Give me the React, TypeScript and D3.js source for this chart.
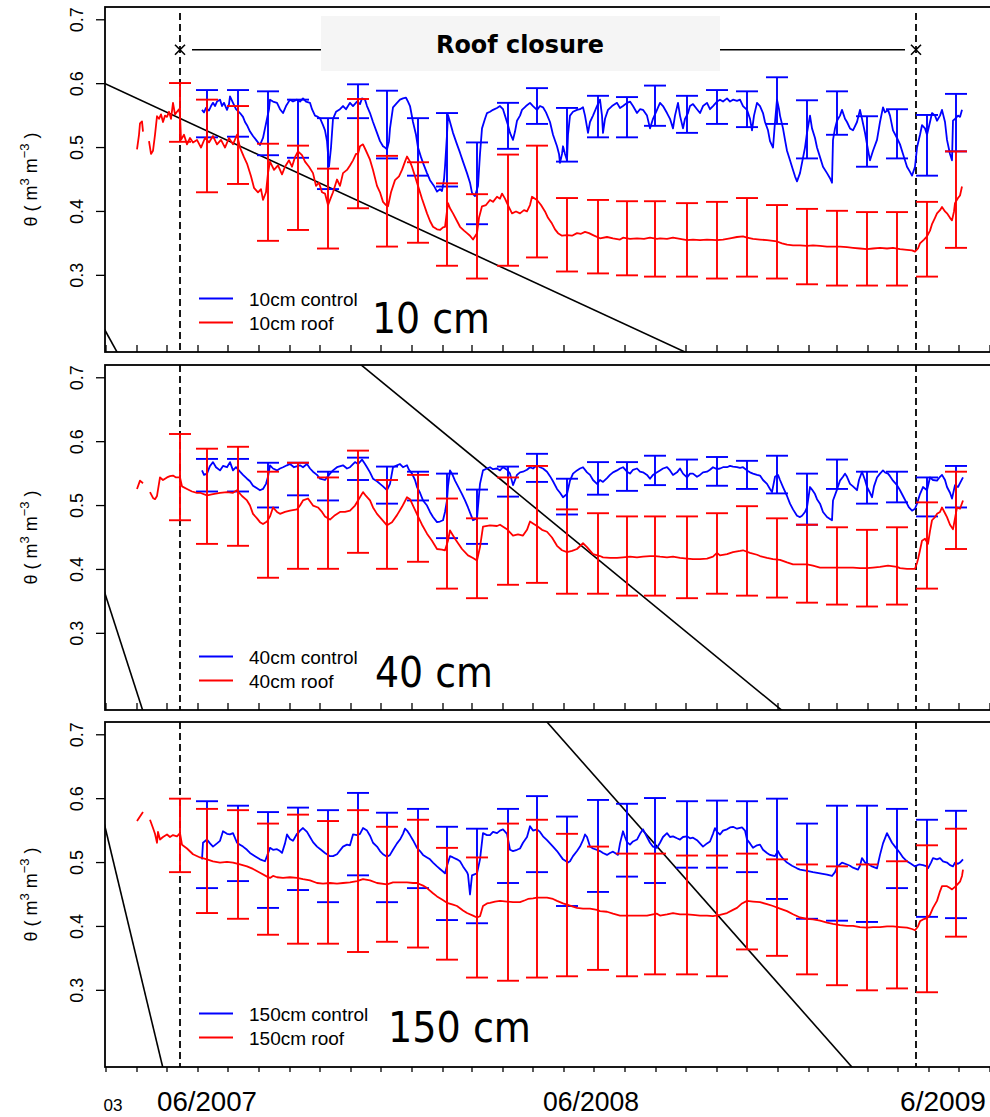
import React from "react";
import * as d3 from "d3";

type Pt = [number, number | null];

// ---------- data ----------
const RECORD_START = "2007-04-01"; // day 0 of the series
const X_START = "2007-02-28";
const X_END = "2009-07-31";
const ROOF_START = "2007-05-14";
const ROOF_END = "2009-05-19";
const ROOF_BAR_LEVEL = 0.653;

const Y_TICKS = [0.3, 0.4, 0.5, 0.6, 0.7];
const Y_DOMAIN: [number, number] = [0.18, 0.72];

const DATE_LABELS = ["03", "06/2007", "06/2008", "6/2009"];
const DATE_LABEL_AT = ["2007-03-08", "2007-06-10", "2008-06-28", "2009-06-15"];

const DEPTHS = ["10 cm", "40 cm", "150 cm"];
const CTRL_NAMES = ["10cm control", "40cm control", "150cm control"];
const ROOF_NAMES = ["10cm roof", "40cm roof", "150cm roof"];

const BAR_DAYS = [43, 70, 101, 131, 161, 191, 221, 250, 281, 310, 340, 371, 400, 430, 461, 490, 518, 550, 580, 610, 640, 670, 700, 730, 760, 790, 819];

// 10 cm
const roof10: Pt[] = [[0,0.497],[2,0.52],[3,0.538],[5,0.541],[6,0.525],[9,null],[12,0.51],[14,0.49],[16,0.495],[18,0.52],[20,0.549],[22,0.545],[24,0.552],[26,0.54],[28,0.55],[30,0.548],[32,0.556],[34,0.545],[36,0.57],[38,0.552],[40,0.556],[42,0.56],[43,0.552],[44,0.512],[47,0.52],[50,0.505],[53,0.515],[56,0.508],[60,0.512],[64,0.5],[68,0.515],[72,0.508],[76,0.518],[80,0.505],[84,0.512],[88,0.5],[92,0.515],[96,0.505],[100,0.52],[103,0.5],[107,0.485],[110,0.475],[114,0.455],[117,0.437],[121,0.43],[124,0.435],[126,0.418],[129,0.43],[131,0.46],[133,0.478],[137,0.465],[141,0.472],[145,0.458],[148,0.47],[152,0.48],[155,0.47],[158,0.485],[161,0.494],[165,0.488],[168,0.478],[172,0.47],[176,0.46],[179,0.44],[182,0.445],[185,0.43],[188,0.428],[191,0.41],[193,0.418],[196,0.43],[200,0.45],[203,0.44],[206,0.46],[210,0.465],[213,0.472],[216,0.48],[219,0.49],[221,0.49],[223,0.502],[226,0.505],[229,0.495],[233,0.481],[236,0.465],[240,0.44],[243,0.43],[246,0.415],[249,0.41],[251,0.408],[254,0.43],[258,0.449],[262,0.455],[265,0.465],[268,0.478],[270,0.486],[273,0.478],[275,0.47],[278,0.455],[281,0.44],[285,0.42],[290,0.397],[293,0.385],[296,0.376],[300,0.372],[303,0.371],[306,0.375],[308,0.376],[311,0.413],[313,0.405],[316,0.397],[320,0.385],[323,0.376],[327,0.37],[330,0.366],[333,0.362],[336,0.356],[340,0.366],[342,0.39],[345,0.408],[349,0.41],[353,0.418],[356,0.415],[360,0.423],[363,0.42],[365,0.428],[368,0.42],[370,0.413],[375,0.397],[379,0.4],[383,0.397],[387,0.402],[390,0.4],[393,0.41],[395,0.423],[398,0.42],[400,0.418],[404,0.41],[408,0.4],[411,0.39],[415,0.381],[418,0.372],[421,0.366],[425,0.362],[430,0.363],[435,0.362],[440,0.366],[444,0.365],[448,0.368],[452,0.366],[456,0.363],[463,0.358],[470,0.36],[476,0.358],[483,0.356],[486,0.359],[493,0.357],[500,0.358],[507,0.357],[513,0.359],[520,0.357],[523,0.358],[530,0.357],[536,0.359],[543,0.357],[550,0.355],[556,0.356],[563,0.355],[570,0.356],[580,0.355],[586,0.356],[593,0.358],[600,0.36],[606,0.361],[610,0.359],[616,0.357],[623,0.356],[630,0.355],[636,0.354],[640,0.353],[645,0.35],[650,0.348],[656,0.347],[663,0.347],[670,0.346],[676,0.347],[683,0.346],[690,0.345],[696,0.345],[703,0.345],[710,0.344],[716,0.343],[723,0.342],[730,0.341],[736,0.342],[743,0.343],[750,0.342],[756,0.343],[763,0.341],[770,0.34],[775,0.339],[778,0.337],[781,0.342],[783,0.35],[787,0.356],[790,0.361],[793,0.37],[795,0.38],[798,0.39],[800,0.397],[803,0.402],[805,0.407],[808,0.4],[810,0.397],[813,0.39],[815,0.386],[817,0.4],[818,0.413],[821,0.421],[823,0.425],[825,0.439]];
const ctrl10: Pt[] = [[65,0.559],[67,0.555],[69,0.562],[72,0.558],[74,0.565],[76,0.57],[78,0.565],[80,0.572],[83,0.575],[85,0.565],[87,0.57],[90,0.559],[92,0.568],[93,0.58],[96,0.57],[99,0.56],[103,0.554],[106,0.548],[108,0.54],[110,0.535],[113,0.525],[116,0.518],[120,0.51],[123,0.504],[126,0.515],[128,0.53],[130,0.545],[132,0.56],[133,0.575],[136,0.572],[140,0.57],[143,0.56],[146,0.554],[149,0.565],[153,0.575],[156,0.572],[160,0.575],[163,0.572],[166,0.577],[169,0.572],[173,0.57],[175,0.56],[178,0.55],[181,0.548],[183,0.546],[186,0.535],[188,0.527],[190,0.51],[192,0.47],[194,0.5],[196,0.545],[199,0.556],[203,0.56],[206,0.565],[209,0.56],[213,0.57],[216,0.565],[220,0.572],[223,0.568],[225,0.577],[228,0.575],[230,0.565],[233,0.554],[236,0.54],[240,0.523],[243,0.51],[246,0.502],[248,0.5],[250,0.497],[252,0.51],[253,0.53],[256,0.563],[260,0.57],[263,0.575],[266,0.577],[269,0.578],[271,0.572],[273,0.565],[276,0.54],[279,0.52],[281,0.5],[284,0.485],[286,0.476],[290,0.46],[293,0.449],[297,0.44],[300,0.431],[303,0.435],[305,0.432],[307,0.45],[308,0.47],[310,0.52],[311,0.551],[313,0.54],[316,0.523],[320,0.505],[323,0.492],[326,0.478],[330,0.46],[333,0.445],[335,0.429],[338,0.424],[341,0.44],[343,0.49],[345,0.53],[348,0.545],[350,0.554],[353,0.556],[356,0.559],[360,0.562],[363,0.565],[366,0.56],[368,0.55],[371,0.535],[373,0.523],[376,0.512],[378,0.525],[380,0.542],[383,0.55],[385,0.559],[389,0.565],[393,0.57],[396,0.565],[400,0.559],[403,0.565],[406,0.563],[409,0.555],[413,0.54],[416,0.52],[420,0.502],[422,0.49],[423,0.476],[425,0.49],[426,0.502],[428,0.49],[430,0.48],[431,0.52],[433,0.55],[436,0.556],[440,0.559],[443,0.56],[446,0.563],[448,0.55],[451,0.523],[453,0.54],[456,0.55],[460,0.565],[463,0.575],[465,0.55],[466,0.523],[468,0.545],[471,0.559],[475,0.565],[480,0.57],[483,0.562],[486,0.565],[490,0.57],[493,0.572],[496,0.565],[500,0.554],[503,0.56],[506,0.559],[510,0.55],[513,0.53],[516,0.545],[520,0.559],[523,0.57],[526,0.565],[530,0.554],[533,0.545],[536,0.53],[538,0.55],[541,0.57],[543,0.55],[546,0.53],[548,0.545],[551,0.554],[553,0.565],[556,0.568],[560,0.56],[563,0.554],[566,0.565],[570,0.57],[573,0.56],[576,0.565],[580,0.572],[583,0.575],[586,0.572],[590,0.577],[593,0.572],[596,0.575],[600,0.573],[603,0.575],[606,0.565],[610,0.559],[613,0.545],[615,0.527],[617,0.55],[620,0.57],[623,0.565],[626,0.554],[628,0.54],[631,0.527],[633,0.51],[636,0.5],[638,0.54],[640,0.575],[642,0.56],[643,0.55],[646,0.53],[648,0.512],[650,0.495],[653,0.48],[656,0.465],[658,0.455],[660,0.447],[663,0.46],[665,0.476],[668,0.5],[670,0.523],[673,0.55],[675,0.53],[678,0.515],[680,0.5],[683,0.485],[686,0.47],[690,0.46],[693,0.452],[695,0.445],[696,0.512],[698,0.53],[700,0.542],[703,0.55],[705,0.559],[708,0.545],[710,0.54],[713,0.53],[716,0.527],[720,0.54],[723,0.559],[725,0.545],[728,0.523],[730,0.505],[733,0.48],[736,0.495],[740,0.512],[743,0.54],[746,0.563],[748,0.555],[751,0.559],[753,0.55],[756,0.527],[760,0.515],[763,0.505],[766,0.49],[770,0.47],[773,0.462],[775,0.456],[778,0.47],[780,0.5],[783,0.52],[785,0.535],[788,0.53],[790,0.52],[793,0.54],[795,0.554],[798,0.55],[800,0.542],[803,0.55],[805,0.559],[808,0.54],[810,0.512],[813,0.49],[815,0.48],[816,0.542],[818,0.545],[821,0.55],[823,0.548],[825,0.559]];
const roof10Hi = [0.601,0.575,0.565,0.506,0.503,0.467,0.576,0.487,0.477,0.444,0.427,0.489,0.503,0.421,0.418,0.416,0.416,0.413,0.415,0.421,0.41,0.404,0.401,0.399,0.399,0.415,0.494];
const roof10Lo = [0.509,0.43,0.443,0.354,0.371,0.342,0.405,0.345,0.351,0.315,0.295,0.315,0.328,0.306,0.303,0.3,0.298,0.298,0.295,0.298,0.295,0.286,0.284,0.284,0.284,0.298,0.343];
const ctrl10Hi = [null,0.59,0.59,0.588,0.575,0.546,0.599,0.589,0.546,0.554,0.508,0.57,0.593,0.562,0.581,0.579,0.597,0.581,0.59,0.588,0.61,0.574,0.588,0.549,0.56,0.551,0.584];
const ctrl10Lo = [null,0.516,0.517,0.488,0.484,0.435,0.546,0.483,0.456,0.439,0.38,0.498,0.537,0.478,0.516,0.516,0.534,0.523,0.537,0.532,0.537,0.483,0.52,0.47,0.483,0.456,0.494];

// 40 cm
const roof40: Pt[] = [[0,0.526],[3,0.539],[6,0.535],[9,null],[13,0.521],[16,0.512],[18,0.51],[20,0.515],[23,0.544],[26,0.54],[30,0.544],[33,0.546],[36,0.547],[39,0.544],[43,0.544],[45,0.53],[50,0.526],[55,0.522],[60,0.52],[63,0.52],[70,0.516],[76,0.518],[83,0.52],[90,0.521],[96,0.52],[100,0.524],[105,0.515],[110,0.508],[113,0.5],[116,0.487],[120,0.48],[123,0.474],[126,0.471],[130,0.475],[133,0.483],[136,0.497],[140,0.49],[143,0.487],[148,0.49],[153,0.492],[160,0.494],[163,0.5],[166,0.508],[171,0.511],[176,0.5],[181,0.497],[185,0.49],[188,0.483],[193,0.478],[198,0.485],[203,0.49],[208,0.49],[213,0.492],[218,0.5],[221,0.508],[226,0.521],[229,0.515],[233,0.508],[236,0.497],[240,0.487],[245,0.478],[250,0.469],[255,0.474],[260,0.485],[265,0.498],[270,0.513],[273,0.51],[276,0.5],[281,0.483],[285,0.47],[290,0.456],[295,0.445],[300,0.432],[305,0.431],[308,0.43],[311,0.445],[313,0.461],[318,0.448],[325,0.432],[331,0.422],[336,0.418],[340,0.414],[343,0.435],[346,0.467],[353,0.469],[360,0.468],[363,0.47],[370,0.463],[376,0.453],[381,0.455],[386,0.453],[390,0.462],[393,0.475],[396,0.472],[400,0.468],[405,0.462],[410,0.459],[415,0.45],[420,0.437],[425,0.43],[430,0.427],[435,0.429],[440,0.432],[446,0.441],[450,0.435],[456,0.424],[463,0.421],[466,0.419],[473,0.418],[480,0.418],[486,0.419],[493,0.42],[500,0.419],[506,0.42],[513,0.421],[518,0.421],[523,0.42],[530,0.419],[536,0.42],[543,0.418],[550,0.417],[556,0.416],[563,0.416],[570,0.417],[576,0.42],[580,0.426],[583,0.422],[590,0.424],[596,0.427],[603,0.429],[606,0.43],[613,0.426],[620,0.423],[623,0.421],[630,0.418],[636,0.416],[643,0.415],[650,0.411],[656,0.408],[663,0.408],[670,0.408],[676,0.406],[683,0.403],[690,0.403],[700,0.403],[710,0.403],[716,0.403],[723,0.402],[730,0.402],[736,0.403],[743,0.404],[751,0.406],[760,0.404],[763,0.402],[770,0.401],[778,0.401],[780,0.41],[781,0.416],[783,0.43],[785,0.445],[788,0.448],[791,0.44],[793,0.46],[795,0.477],[798,0.482],[800,0.487],[803,0.49],[805,0.497],[808,0.488],[810,0.482],[813,0.47],[816,0.463],[818,0.48],[820,0.497],[823,0.495],[826,0.508]];
const ctrl40: Pt[] = [[65,0.555],[67,0.548],[70,0.55],[73,0.562],[76,0.568],[79,0.56],[83,0.555],[86,0.562],[90,0.56],[93,0.568],[96,0.555],[99,0.56],[103,0.553],[106,0.548],[110,0.542],[113,0.538],[116,0.531],[120,0.527],[123,0.524],[126,0.526],[129,0.534],[131,0.545],[133,0.563],[136,0.558],[140,0.555],[143,0.558],[146,0.56],[150,0.563],[153,0.565],[157,0.56],[163,0.563],[166,0.56],[170,0.565],[173,0.558],[176,0.553],[180,0.548],[183,0.542],[188,0.54],[193,0.55],[196,0.555],[200,0.56],[206,0.563],[210,0.558],[213,0.56],[218,0.568],[221,0.565],[225,0.572],[228,0.565],[230,0.56],[233,0.552],[236,0.542],[240,0.538],[243,0.534],[246,0.53],[250,0.524],[253,0.534],[256,0.56],[260,0.563],[263,0.565],[266,0.56],[270,0.563],[272,0.556],[275,0.55],[278,0.54],[280,0.529],[283,0.52],[286,0.508],[290,0.5],[293,0.49],[296,0.482],[300,0.474],[303,0.475],[306,0.477],[308,0.49],[310,0.508],[311,0.53],[313,0.555],[315,0.55],[318,0.539],[321,0.53],[325,0.518],[328,0.508],[331,0.497],[334,0.485],[336,0.477],[340,0.48],[343,0.534],[346,0.555],[350,0.558],[353,0.56],[356,0.557],[360,0.558],[363,0.555],[366,0.56],[370,0.556],[373,0.55],[376,0.532],[380,0.548],[383,0.552],[386,0.553],[390,0.556],[393,0.56],[396,0.558],[400,0.563],[403,0.56],[406,0.558],[410,0.553],[413,0.546],[416,0.538],[420,0.526],[423,0.52],[426,0.513],[430,0.518],[433,0.539],[436,0.55],[440,0.555],[443,0.558],[446,0.56],[450,0.552],[453,0.548],[456,0.54],[460,0.534],[463,0.54],[466,0.537],[470,0.543],[473,0.548],[476,0.552],[480,0.555],[483,0.558],[486,0.56],[490,0.553],[493,0.55],[496,0.556],[500,0.558],[503,0.553],[506,0.552],[510,0.548],[513,0.542],[516,0.548],[518,0.55],[523,0.555],[526,0.558],[530,0.56],[533,0.555],[536,0.548],[540,0.552],[543,0.558],[546,0.55],[550,0.544],[553,0.55],[556,0.55],[560,0.545],[563,0.548],[566,0.552],[570,0.553],[573,0.556],[576,0.56],[580,0.557],[583,0.558],[586,0.56],[590,0.56],[593,0.562],[596,0.561],[600,0.56],[603,0.559],[606,0.56],[610,0.555],[613,0.552],[616,0.55],[620,0.548],[623,0.547],[626,0.54],[630,0.534],[633,0.526],[635,0.521],[638,0.545],[640,0.547],[641,0.548],[643,0.54],[646,0.529],[650,0.515],[653,0.503],[656,0.494],[660,0.484],[663,0.482],[665,0.484],[668,0.49],[670,0.497],[673,0.529],[675,0.525],[678,0.518],[680,0.51],[683,0.503],[686,0.49],[690,0.482],[693,0.479],[695,0.477],[696,0.508],[700,0.525],[703,0.539],[706,0.545],[708,0.55],[710,0.545],[713,0.534],[716,0.53],[720,0.524],[722,0.54],[725,0.553],[728,0.54],[730,0.529],[733,0.52],[735,0.513],[737,0.53],[740,0.544],[743,0.55],[746,0.555],[748,0.552],[751,0.55],[753,0.546],[756,0.539],[760,0.532],[763,0.524],[766,0.515],[770,0.503],[772,0.497],[775,0.492],[778,0.495],[780,0.503],[783,0.518],[786,0.529],[790,0.524],[793,0.544],[796,0.54],[800,0.539],[803,0.545],[805,0.548],[808,0.54],[810,0.529],[813,0.52],[815,0.511],[818,0.532],[821,0.529],[823,0.535],[826,0.544]];
const roof40Hi = [0.612,0.589,0.592,0.553,0.567,0.544,0.586,0.54,0.548,0.511,0.48,0.544,0.562,0.494,0.488,0.483,0.483,0.483,0.488,0.499,0.48,0.47,0.466,0.462,0.466,0.505,0.553];
const roof40Lo = [0.477,0.44,0.437,0.387,0.401,0.401,0.426,0.401,0.412,0.37,0.355,0.376,0.379,0.362,0.362,0.359,0.359,0.355,0.362,0.359,0.356,0.348,0.345,0.342,0.345,0.37,0.432];
const ctrl40Hi = [null,0.573,0.573,0.567,0.567,0.553,0.575,0.561,0.553,0.55,0.525,0.561,0.581,0.542,0.568,0.568,0.578,0.572,0.576,0.57,0.578,0.55,0.572,0.553,0.553,0.544,0.562];
const ctrl40Lo = [null,0.522,0.522,0.497,0.516,0.508,0.54,0.503,0.508,0.449,0.44,0.514,0.537,0.486,0.517,0.523,0.532,0.526,0.531,0.526,0.519,0.47,0.526,0.503,0.505,0.483,0.497];

// 150 cm
const roof150: Pt[] = [[0,0.565],[3,0.572],[6,0.579],[9,null],[13,0.567],[16,0.554],[18,0.545],[20,0.531],[21,0.548],[23,0.536],[26,0.54],[30,0.544],[33,0.54],[36,0.543],[40,0.541],[43,0.546],[45,0.528],[50,0.522],[56,0.513],[63,0.508],[70,0.505],[76,0.502],[83,0.5],[90,0.501],[96,0.5],[103,0.497],[110,0.494],[116,0.49],[123,0.484],[130,0.478],[133,0.476],[136,0.479],[140,0.477],[146,0.476],[153,0.477],[160,0.476],[166,0.474],[173,0.472],[180,0.468],[186,0.467],[193,0.468],[200,0.467],[206,0.468],[213,0.469],[220,0.471],[226,0.474],[233,0.472],[240,0.468],[250,0.466],[256,0.469],[260,0.469],[270,0.469],[276,0.468],[280,0.468],[286,0.464],[290,0.46],[296,0.452],[300,0.447],[305,0.442],[310,0.437],[316,0.434],[320,0.432],[326,0.425],[330,0.421],[336,0.417],[340,0.414],[343,0.416],[346,0.432],[350,0.436],[353,0.437],[358,0.439],[363,0.44],[370,0.439],[376,0.438],[383,0.438],[388,0.441],[391,0.443],[396,0.444],[400,0.445],[406,0.445],[410,0.445],[416,0.443],[420,0.44],[426,0.436],[430,0.434],[436,0.431],[440,0.429],[446,0.428],[453,0.428],[460,0.426],[463,0.424],[470,0.423],[476,0.42],[483,0.417],[490,0.417],[496,0.417],[503,0.417],[510,0.417],[516,0.419],[520,0.42],[523,0.417],[530,0.419],[536,0.421],[543,0.419],[550,0.419],[556,0.418],[563,0.417],[570,0.417],[576,0.416],[583,0.418],[590,0.421],[596,0.426],[600,0.429],[605,0.436],[610,0.44],[616,0.439],[623,0.438],[630,0.435],[636,0.432],[643,0.428],[650,0.424],[656,0.419],[663,0.414],[670,0.412],[676,0.411],[683,0.409],[690,0.406],[696,0.404],[703,0.402],[710,0.401],[716,0.401],[723,0.399],[730,0.398],[736,0.399],[743,0.399],[750,0.4],[756,0.4],[763,0.399],[770,0.398],[775,0.396],[778,0.394],[781,0.4],[783,0.408],[786,0.411],[790,0.413],[793,0.418],[796,0.429],[800,0.44],[803,0.455],[805,0.463],[810,0.463],[813,0.46],[815,0.458],[818,0.462],[820,0.465],[823,0.47],[825,0.479],[826,0.489]];
const ctrl150: Pt[] = [[65,0.505],[66,0.531],[70,0.536],[73,0.53],[76,0.525],[80,0.53],[83,0.534],[86,0.549],[90,0.545],[93,0.544],[96,0.546],[100,0.531],[103,0.528],[106,0.525],[110,0.52],[113,0.515],[118,0.51],[123,0.505],[128,0.502],[130,0.51],[133,0.523],[136,0.52],[140,0.521],[143,0.518],[145,0.515],[148,0.53],[150,0.544],[153,0.537],[156,0.534],[160,0.545],[161,0.546],[163,0.55],[166,0.554],[170,0.548],[173,0.54],[176,0.532],[180,0.525],[184,0.52],[188,0.515],[193,0.51],[196,0.51],[200,0.513],[206,0.525],[210,0.528],[213,0.527],[216,0.544],[220,0.543],[223,0.545],[226,0.554],[230,0.55],[233,0.542],[236,0.531],[240,0.525],[243,0.518],[246,0.513],[250,0.509],[253,0.512],[256,0.52],[260,0.53],[263,0.536],[266,0.545],[268,0.553],[270,0.55],[273,0.543],[276,0.535],[280,0.523],[283,0.518],[286,0.512],[290,0.508],[293,0.505],[296,0.5],[300,0.494],[303,0.49],[306,0.486],[308,0.483],[310,0.495],[313,0.51],[316,0.508],[320,0.505],[323,0.502],[326,0.494],[330,0.485],[331,0.481],[333,0.45],[335,0.48],[338,0.482],[340,0.483],[343,0.505],[346,0.546],[350,0.543],[353,0.543],[356,0.548],[360,0.546],[363,0.55],[366,0.552],[370,0.545],[373,0.52],[376,0.518],[380,0.52],[383,0.522],[386,0.531],[390,0.54],[393,0.557],[396,0.55],[400,0.552],[403,0.548],[406,0.541],[410,0.535],[416,0.525],[420,0.518],[426,0.505],[431,0.5],[433,0.502],[436,0.51],[440,0.518],[443,0.525],[446,0.535],[448,0.544],[450,0.54],[453,0.525],[456,0.522],[460,0.52],[463,0.518],[466,0.515],[470,0.512],[473,0.515],[476,0.517],[478,0.515],[481,0.512],[483,0.53],[486,0.549],[488,0.54],[490,0.532],[493,0.528],[496,0.533],[500,0.536],[503,0.545],[506,0.552],[510,0.54],[513,0.531],[516,0.525],[520,0.523],[523,0.531],[526,0.54],[530,0.546],[533,0.54],[536,0.541],[540,0.538],[543,0.536],[546,0.54],[550,0.541],[553,0.538],[556,0.539],[560,0.535],[563,0.53],[566,0.525],[570,0.53],[573,0.533],[576,0.545],[578,0.554],[580,0.548],[583,0.544],[586,0.55],[590,0.552],[593,0.555],[596,0.556],[600,0.553],[605,0.555],[608,0.55],[610,0.536],[613,0.53],[616,0.523],[620,0.527],[623,0.528],[626,0.52],[630,0.515],[633,0.512],[638,0.51],[641,0.518],[643,0.512],[646,0.506],[650,0.5],[655,0.495],[660,0.491],[663,0.489],[670,0.487],[676,0.485],[683,0.483],[690,0.481],[695,0.479],[698,0.485],[700,0.493],[705,0.5],[710,0.497],[713,0.495],[716,0.492],[721,0.489],[723,0.495],[725,0.507],[728,0.5],[731,0.498],[735,0.494],[740,0.491],[743,0.512],[746,0.53],[750,0.546],[752,0.54],[755,0.531],[758,0.525],[763,0.515],[766,0.508],[770,0.502],[774,0.498],[778,0.494],[782,0.497],[786,0.496],[790,0.494],[791,0.491],[794,0.5],[796,0.507],[800,0.505],[803,0.507],[806,0.502],[810,0.5],[813,0.496],[816,0.494],[818,0.5],[821,0.498],[823,0.5],[826,0.505]];
const roof150Hi = [0.6,0.584,0.582,0.561,0.575,0.565,0.582,0.556,0.567,0.523,0.508,0.561,0.567,0.545,0.525,0.514,0.514,0.511,0.511,0.514,0.505,0.497,0.494,0.497,0.502,0.527,0.553];
const roof150Lo = [0.485,0.421,0.412,0.387,0.373,0.373,0.36,0.376,0.367,0.348,0.32,0.315,0.32,0.322,0.332,0.322,0.325,0.325,0.322,0.364,0.354,0.325,0.308,0.3,0.303,0.297,0.384];
const ctrl150Hi = [null,0.596,0.589,0.579,0.586,0.582,0.609,0.578,0.584,0.556,0.553,0.584,0.604,0.572,0.598,0.592,0.601,0.596,0.597,0.596,0.6,0.561,0.589,0.589,0.584,0.567,0.581];
const ctrl150Lo = [null,0.46,0.471,0.429,0.457,0.438,0.48,0.438,0.46,0.41,0.405,0.468,0.485,0.432,0.454,0.478,0.468,0.492,0.492,0.485,0.443,0.412,0.409,0.407,0.46,0.415,0.413];

// straight reference lines (two points each, day / theta)
const ablines10 = [[[-32, 0.6], [548, 0.18]], [[-32, 0.214], [-20, 0.18]]];
const ablines40 = [[[225, 0.719], [646, 0.178]], [[-32, 0.362], [6, 0.178]]];
const ablines150 = [[[410, 0.72], [716, 0.178]], [[-32, 0.556], [26, 0.178]]];

// ---------- layout ----------
const LEFT = 105;
const RIGHT = 989;
const PANEL_TOPS = [7, 365, 722];
const PANEL_H = 345;
const BIG_LABEL_X = [372, 375, 388];
const BIG_LABEL_BASE = [326, 321.5, 319.5];
const BLUE = "#0000ff";
const RED = "#ff0000";
const SANS = "'Liberation Sans', Arial, Helvetica, sans-serif";

const PANELS = [
  { roof: roof10, ctrl: ctrl10, rHi: roof10Hi, rLo: roof10Lo, cHi: ctrl10Hi, cLo: ctrl10Lo, ab: ablines10 },
  { roof: roof40, ctrl: ctrl40, rHi: roof40Hi, rLo: roof40Lo, cHi: ctrl40Hi, cLo: ctrl40Lo, ab: ablines40 },
  { roof: roof150, ctrl: ctrl150, rHi: roof150Hi, rLo: roof150Lo, cHi: ctrl150Hi, cLo: ctrl150Lo, ab: ablines150 },
];

export default function App() {
  const parse = d3.timeParse("%Y-%m-%d");
  const t0 = parse(RECORD_START)!;
  const x = d3.scaleTime().domain([parse(X_START)!, parse(X_END)!]).range([LEFT, RIGHT]);
  const xd = (d: number) => x(d3.timeDay.offset(t0, d));
  const months = d3.timeMonth.range(parse("2007-03-01")!, parse("2009-08-02")!);
  const xRoofStart = x(parse(ROOF_START)!);
  const xRoofEnd = x(parse(ROOF_END)!);
  const CAP = 11;

  return (
    <svg width={990} height={1117} style={{ position: "absolute", left: 0, top: 0, background: "#fff" }}
      fontFamily={SANS}>
      <rect x={0} y={0} width={990} height={1117} fill="#fff" />
      <defs>
        {PANEL_TOPS.map((top, i) => (
          <clipPath id={`clip${i}`} key={i}>
            <rect x={LEFT} y={top} width={RIGHT - LEFT + 2} height={PANEL_H} />
          </clipPath>
        ))}
      </defs>
      {PANELS.map((p, i) => {
        const top = PANEL_TOPS[i];
        const bottom = top + PANEL_H;
        const y = d3.scaleLinear().domain(Y_DOMAIN).range([bottom, top]);
        const line = d3.line<Pt>().defined((q) => q[1] != null).x((q) => xd(q[0])).y((q) => y(q[1] as number));
        const cy = (top + bottom) / 2;
        const abPaths = p.ab.map(([a, b]) => {
          const slope = (b[1] - a[1]) / (b[0] - a[0]);
          const d1 = -40, d2 = 900;
          return `M${xd(d1)},${y(a[1] + slope * (d1 - a[0]))}L${xd(d2)},${y(a[1] + slope * (d2 - a[0]))}`;
        });
        const bars = (hi: (number | null)[], lo: (number | null)[], color: string) =>
          BAR_DAYS.map((d, k) => {
            const h = hi[k], l = lo[k];
            if (h == null || l == null) return null;
            const bx = xd(d);
            return (
              <g key={k} stroke={color} strokeWidth={1.9}>
                <line x1={bx} x2={bx} y1={y(l)} y2={y(h)} />
                <line x1={bx - CAP} x2={bx + CAP} y1={y(h)} y2={y(h)} />
                <line x1={bx - CAP} x2={bx + CAP} y1={y(l)} y2={y(l)} />
              </g>
            );
          });
        const yb = y(ROOF_BAR_LEVEL);
        return (
          <g key={i}>
            {i === 0 && (
              <g>
                <line x1={xRoofStart + 12} x2={xRoofEnd - 11} y1={yb} y2={yb} stroke="#000" strokeWidth={1.5} />
                <rect x={321} y={16} width={399} height={55} fill="#f5f5f5" />
                <text x={436} y={53} fontFamily="'DejaVu Sans', Verdana, sans-serif" fontWeight="bold" fontSize={25}
                  textLength={168} lengthAdjust="spacingAndGlyphs">Roof closure</text>
                {[xRoofStart, xRoofEnd].map((mx, k) => (
                  <path key={k} d={`M${mx - 5},${yb - 5}L${mx + 5},${yb + 5}M${mx - 5},${yb + 5}L${mx + 5},${yb - 5}`}
                    stroke="#000" strokeWidth={1.6} />
                ))}
              </g>
            )}
            <g clipPath={`url(#clip${i})`}>
              {[xRoofStart, xRoofEnd].map((vx, k) => (
                <line key={k} x1={vx} x2={vx} y1={i === 0 ? top + 6 : top} y2={bottom} stroke="#000" strokeWidth={1.8} strokeDasharray="7,4" />
              ))}
              {abPaths.map((d, k) => (
                <path key={k} d={d} stroke="#000" strokeWidth={1.6} fill="none" />
              ))}
              <path d={line(p.ctrl) || ""} stroke={BLUE} strokeWidth={1.8} fill="none" strokeLinejoin="round" />
              {bars(p.cHi, p.cLo, BLUE)}
              <path d={line(p.roof) || ""} stroke={RED} strokeWidth={1.8} fill="none" strokeLinejoin="round" />
              {bars(p.rHi, p.rLo, RED)}
            </g>
            <rect x={LEFT} y={top} width={RIGHT - LEFT + 3} height={PANEL_H} fill="none" stroke="#000" strokeWidth={1.8} />
            {Y_TICKS.map((t) => (
              <g key={t}>
                <line x1={LEFT - 9} x2={LEFT} y1={y(t)} y2={y(t)} stroke="#000" strokeWidth={1.3} />
                <text transform={`translate(83,${y(t)}) rotate(-90)`} textAnchor="middle" fontSize={18}>{t.toFixed(1)}</text>
              </g>
            ))}
            <text transform={`translate(37,${cy}) rotate(-90)`} textAnchor="middle" fontSize={18}>
              {"θ ( m"}
              <tspan dy={-8} fontSize={13}>3</tspan>
              <tspan dy={8}>{" m"}</tspan>
              <tspan dy={-8} fontSize={13}>{"−3"}</tspan>
              <tspan dy={8}>{" )"}</tspan>
            </text>
            {months.map((m, k) => (
              <line key={k} x1={x(m)} x2={x(m)} y1={bottom} y2={i === 2 ? bottom + 5 : bottom - 7} stroke="#000" strokeWidth={1.3} />
            ))}
            <line x1={199} x2={233} y1={top + 291.5} y2={top + 291.5} stroke={BLUE} strokeWidth={2} />
            <line x1={199} x2={233} y1={top + 315.5} y2={top + 315.5} stroke={RED} strokeWidth={2} />
            <text x={249} y={top + 298.5} fontSize={19}>{CTRL_NAMES[i]}</text>
            <text x={249} y={top + 322.5} fontSize={19}>{ROOF_NAMES[i]}</text>
            <text x={BIG_LABEL_X[i]} y={top + BIG_LABEL_BASE[i]} fontFamily="'DejaVu Sans', Verdana, sans-serif" fontSize={43}
              textLength={i === 2 ? 143 : 118} lengthAdjust="spacingAndGlyphs">{DEPTHS[i]}</text>
          </g>
        );
      })}
      {DATE_LABELS.map((lab, k) => (
        <text key={k} x={x(parse(DATE_LABEL_AT[k])!)} y={1111} textAnchor="middle"
          fontFamily="'Liberation Sans Narrow', 'Liberation Sans', Arial, sans-serif"
          fontSize={k === 0 ? 16 : 27}
          textLength={k === 0 ? 19 : [0, 100, 96, 86][k]} lengthAdjust="spacingAndGlyphs">{lab}</text>
      ))}
    </svg>
  );
}
